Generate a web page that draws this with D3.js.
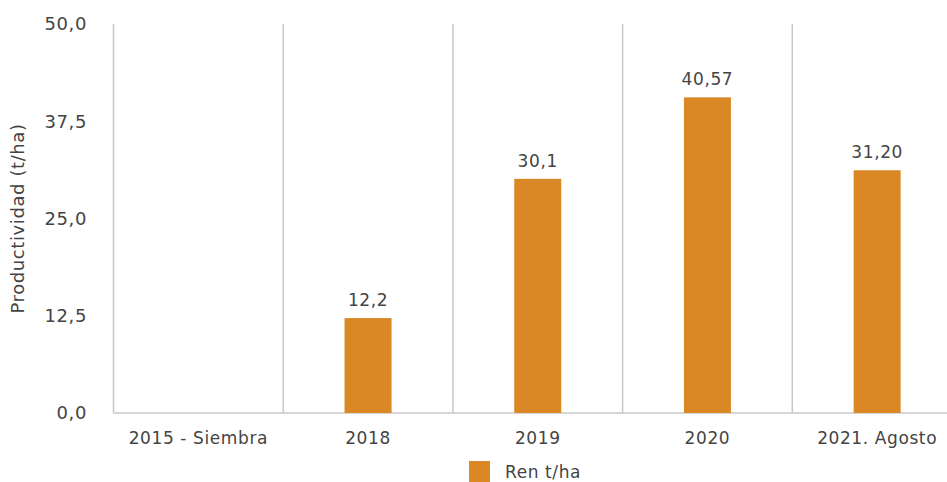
<!DOCTYPE html>
<html lang="es">
<head>
    <meta charset="UTF-8">
    <script src="https://d3js.org/d3.v7.min.js"></script>
    <style>
        html, body { margin: 0; overflow: hidden; background: #fff; }
        text { font-family: "DejaVu Sans", "Open Sans", sans-serif; fill: #444; letter-spacing: 0.6px; }
    </style>
    <title>Productividad</title>
</head>
<body>
<svg id="svg"></svg>
<script>
    const categories = ['2015 - Siembra', '2018', '2019', '2020', '2021. Agosto'];
    const values = [null, 12.2, 30.1, 40.57, 31.2];
    const valueLabels = ['', '12,2', '30,1', '40,57', '31,20'];
    const yTicks = [0, 12.5, 25, 37.5, 50];
    const seriesName = 'Ren t/ha';

    const width = 947, height = 482;
    const svg = d3.select('#svg').attr('width', width).attr('height', height);

    const color = '#DA8826';
    const grid = '#c8c8c8';

    // plot runs past the right edge, like the original crop
    const x = d3.scaleBand().domain(categories).range([113.5, 962]);
    const y = d3.scaleLinear().domain([0, 50]).range([413, 24]);
    const barW = 47;

    // vertical separators between categories
    svg.selectAll('line.sep').data(categories).join('line')
        .attr('class', 'sep')
        .attr('x1', d => x(d)).attr('x2', d => x(d))
        .attr('y1', y(50)).attr('y2', y(0))
        .attr('stroke', grid).attr('stroke-width', 1.5);

    svg.append('line')
        .attr('x1', x.range()[0]).attr('x2', x.range()[1])
        .attr('y1', y(0)).attr('y2', y(0))
        .attr('stroke', grid).attr('stroke-width', 1.5);

    const fmt = d => d3.format('.1f')(d).replace('.', ',');
    svg.selectAll('text.ytick').data(yTicks).join('text')
        .attr('class', 'ytick')
        .attr('x', 87).attr('y', d => y(d))
        .attr('dy', '0.36em')
        .attr('text-anchor', 'end')
        .attr('font-size', 18)
        .text(fmt);

    svg.append('text')
        .attr('transform', `translate(24, ${(y(0) + y(50)) / 2}) rotate(-90)`)
        .attr('text-anchor', 'middle')
        .attr('font-size', 18)
        .attr('letter-spacing', '1px')
        .text('Productividad (t/ha)');

    const bars = categories.map((c, i) => ({ c, v: values[i], label: valueLabels[i] }))
        .filter(d => d.v != null);

    svg.selectAll('rect.bar').data(bars).join('rect')
        .attr('class', 'bar')
        .attr('x', d => x(d.c) + x.bandwidth() / 2 - barW / 2)
        .attr('width', barW)
        .attr('y', d => y(d.v))
        .attr('height', d => y(0) - y(d.v))
        .attr('fill', color);

    svg.selectAll('text.val').data(bars).join('text')
        .attr('class', 'val')
        .attr('x', d => x(d.c) + x.bandwidth() / 2)
        .attr('y', d => y(d.v) - 12)
        .attr('text-anchor', 'middle')
        .attr('font-size', 17)
        .text(d => d.label);

    svg.selectAll('text.cat').data(categories).join('text')
        .attr('class', 'cat')
        .attr('x', d => x(d) + x.bandwidth() / 2)
        .attr('y', 444)
        .attr('text-anchor', 'middle')
        .attr('font-size', 17)
        .text(d => d);

    // legend
    svg.append('rect').attr('x', 469).attr('y', 461).attr('width', 21).attr('height', 21).attr('fill', color);
    svg.append('text').attr('x', 505).attr('y', 478).attr('font-size', 17).text(seriesName);
</script>
</body>
</html>
